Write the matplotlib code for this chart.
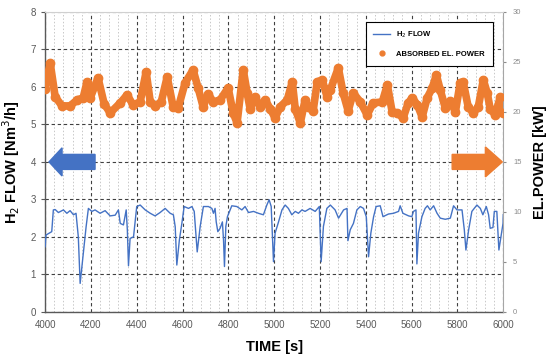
import numpy as np
import matplotlib
matplotlib.use("Agg")
import matplotlib.pyplot as plt
from matplotlib.ticker import MultipleLocator
from matplotlib.lines import Line2D

# ── DATA ──────────────────────────────────────────────────────────────────────
flow_t = [4000, 4004, 4029, 4036, 4044, 4058, 4080, 4095, 4109, 4124, 4135, 4145,
          4153, 4165, 4179, 4189, 4204, 4218, 4240, 4262, 4284, 4306, 4320, 4328,
          4342, 4354, 4359, 4364, 4371, 4386, 4400, 4415, 4437, 4459, 4480, 4502,
          4524, 4546, 4560, 4568, 4575, 4586, 4597, 4607, 4626, 4641, 4651, 4664,
          4677, 4691, 4713, 4728, 4735, 4742, 4747, 4754, 4764, 4774, 4779, 4783,
          4789, 4796, 4815, 4837, 4859, 4873, 4888, 4910, 4931, 4953, 4968, 4978,
          4987, 4993, 4997, 5004, 5019, 5034, 5048, 5062, 5077, 5092, 5106, 5121,
          5135, 5157, 5179, 5197, 5202, 5205, 5215, 5230, 5245, 5266, 5281, 5303,
          5318, 5322, 5332, 5346, 5361, 5376, 5390, 5402, 5412, 5422, 5434, 5445,
          5463, 5475, 5499, 5521, 5543, 5550, 5562, 5587, 5601, 5608, 5619, 5623,
          5630, 5645, 5659, 5669, 5681, 5696, 5711, 5725, 5747, 5769, 5783, 5798,
          5820, 5830, 5837, 5849, 5863, 5885, 5900, 5911, 5926, 5936, 5943, 5955,
          5961, 5972, 5981, 5990, 5999, 6000]
flow_v = [1.74, 2.05, 2.14, 2.72, 2.73, 2.65, 2.72, 2.63, 2.70, 2.59, 2.63, 2.00,
          0.76, 1.47, 2.27, 2.76, 2.68, 2.72, 2.63, 2.70, 2.56, 2.58, 2.72, 2.36,
          2.32, 2.72, 2.19, 1.23, 1.96, 2.00, 2.81, 2.85, 2.72, 2.63, 2.56, 2.65,
          2.76, 2.63, 2.59, 2.27, 1.25, 1.91, 2.36, 2.81, 2.76, 2.81, 2.68, 1.60,
          2.28, 2.81, 2.81, 2.76, 2.63, 2.76, 2.40, 2.14, 2.23, 2.40, 1.90, 1.21,
          2.28, 2.54, 2.83, 2.81, 2.72, 2.81, 2.65, 2.68, 2.63, 2.59, 2.85, 2.99,
          2.81, 1.90, 1.34, 2.10, 2.40, 2.72, 2.85, 2.76, 2.59, 2.68, 2.63, 2.72,
          2.68, 2.76, 2.68, 2.81, 1.90, 1.34, 2.28, 2.76, 2.85, 2.72, 2.50, 2.72,
          2.76, 1.90, 2.19, 2.36, 2.72, 2.81, 2.76, 2.54, 1.47, 2.10, 2.54, 2.81,
          2.83, 2.54, 2.61, 2.63, 2.68, 2.83, 2.63, 2.56, 2.54, 2.68, 2.72, 1.28,
          2.10, 2.54, 2.76, 2.83, 2.72, 2.83, 2.63, 2.50, 2.47, 2.50, 2.83, 2.72,
          2.72, 2.19, 1.65, 2.19, 2.68, 2.85, 2.76, 2.59, 2.81, 2.59, 2.23, 2.25,
          2.68, 2.68, 1.65, 2.00, 2.36, 2.59]

power_t = [4000, 4022, 4044, 4074, 4109, 4140, 4166, 4183, 4197, 4231, 4258, 4284,
           4328, 4358, 4384, 4415, 4441, 4459, 4480, 4507, 4533, 4559, 4581, 4611,
           4646, 4668, 4690, 4712, 4734, 4764, 4799, 4821, 4838, 4865, 4882, 4895,
           4917, 4939, 4961, 4983, 5004, 5026, 5057, 5079, 5092, 5114, 5135, 5149,
           5170, 5188, 5210, 5231, 5245, 5280, 5301, 5323, 5345, 5376, 5406, 5432,
           5472, 5494, 5515, 5537, 5563, 5585, 5603, 5625, 5646, 5668, 5690, 5708,
           5725, 5747, 5769, 5791, 5812, 5825, 5847, 5869, 5891, 5913, 5930, 5943,
           5965, 5987, 6000]
power_kw = [22.3, 24.9, 21.5, 20.6, 20.6, 21.2, 21.4, 23.0, 21.4, 23.4, 20.8, 19.9,
            20.9, 21.7, 20.7, 21.0, 24.0, 21.0, 20.6, 21.0, 23.5, 20.5, 20.4, 22.9,
            24.2, 22.4, 20.5, 21.8, 21.0, 21.2, 22.4, 19.9, 18.9, 24.2, 21.9, 20.3,
            21.5, 20.5, 21.2, 20.3, 19.4, 20.5, 21.2, 23.0, 20.3, 18.9, 21.2, 20.5,
            20.1, 23.0, 23.2, 21.5, 22.2, 24.4, 21.9, 20.1, 21.9, 21.0, 19.7, 20.9,
            21.0, 22.7, 20.0, 19.9, 19.4, 20.9, 21.4, 20.7, 19.5, 21.4, 22.4, 23.7,
            22.2, 20.4, 21.1, 20.0, 22.9, 23.0, 20.5, 19.9, 20.5, 23.2, 21.9, 20.3,
            19.7, 21.5, 19.9]

BLUE = "#4472C4"
ORANGE = "#ED7D31"
TICK = "#595959"

plt.rcParams["font.family"] = ["Liberation Sans", "DejaVu Sans"]

fig = plt.figure(figsize=(5.5, 3.61), dpi=100)
ax = fig.add_axes([0.082, 0.136, 0.833, 0.831])
ax2 = ax.twinx()

# grid
ax.set_xlim(4000, 6000)
ax.set_ylim(0, 8)
ax.xaxis.set_major_locator(MultipleLocator(200))
ax.xaxis.set_minor_locator(MultipleLocator(40))
ax.yaxis.set_major_locator(MultipleLocator(1))
ax.grid(which="major", axis="both", color="#404040", linestyle=(0, (3, 2.5)), linewidth=0.8)
ax.grid(which="minor", axis="x", color="#C8C8C8", linestyle=(0, (1.5, 2)), linewidth=0.7)
ax.set_axisbelow(True)

ax.plot(flow_t, flow_v, color=BLUE, linewidth=1.0, zorder=3)

ax2.set_ylim(0, 30)
ax2.yaxis.set_major_locator(MultipleLocator(5))
ax2.plot(power_t, power_kw, color=ORANGE, linewidth=5.5, solid_joinstyle="round",
         solid_capstyle="round", zorder=3)
ax2.plot(power_t, power_kw, linestyle="none", marker="o", markersize=6,
         color=ORANGE, zorder=3)

# arrows
ax.arrow(4218, 4, -144, 0, width=0.4, head_width=0.75, head_length=57,
         length_includes_head=False, color=BLUE, zorder=4)
ax2.arrow(5777, 15, 145, 0, width=1.5, head_width=3.0, head_length=74,
          length_includes_head=False, color=ORANGE, zorder=4)

# ticks and spines
ax.tick_params(axis="both", which="major", labelsize=7, colors=TICK, length=3, width=0.8)
ax.tick_params(axis="x", which="both", length=0, pad=6)
ax2.tick_params(axis="y", labelsize=5.5, colors="#8C8C8C", length=2, pad=5)
for s in ["left", "bottom"]:
    ax.spines[s].set_color(TICK)
    ax.spines[s].set_linewidth(1.0)
ax2.spines["right"].set_color("#A6A6A6")
ax2.spines["top"].set_color("#D0D0D0")
ax2.spines["left"].set_visible(False)
ax2.spines["bottom"].set_visible(False)
ax.spines["top"].set_visible(False)
ax.spines["right"].set_visible(False)

ax.set_xlabel("TIME [s]", fontsize=10.5, fontweight="bold", labelpad=7)
ax.set_ylabel("H$_2$ FLOW [Nm$^3$/h]", fontsize=10.5, fontweight="bold", labelpad=6)
ax2.set_ylabel("EL.POWER [kW]", fontsize=10.5, fontweight="bold", labelpad=8)

handles = [Line2D([], [], color=BLUE, linewidth=1.0),
           Line2D([], [], color=ORANGE, linestyle="none", marker="o", markersize=3.5)]
leg = ax2.legend(handles, ["H$_2$ FLOW", "ABSORBED EL. POWER"],
                 loc="upper right", bbox_to_anchor=(0.985, 0.98),
                 prop={"size": 5.5, "weight": "bold"}, fancybox=False,
                 edgecolor="black", framealpha=1, labelspacing=1.4,
                 handlelength=2.2, borderpad=1.0, handletextpad=0.8)
leg.get_frame().set_linewidth(0.8)

fig.savefig("out.png", dpi=100)
